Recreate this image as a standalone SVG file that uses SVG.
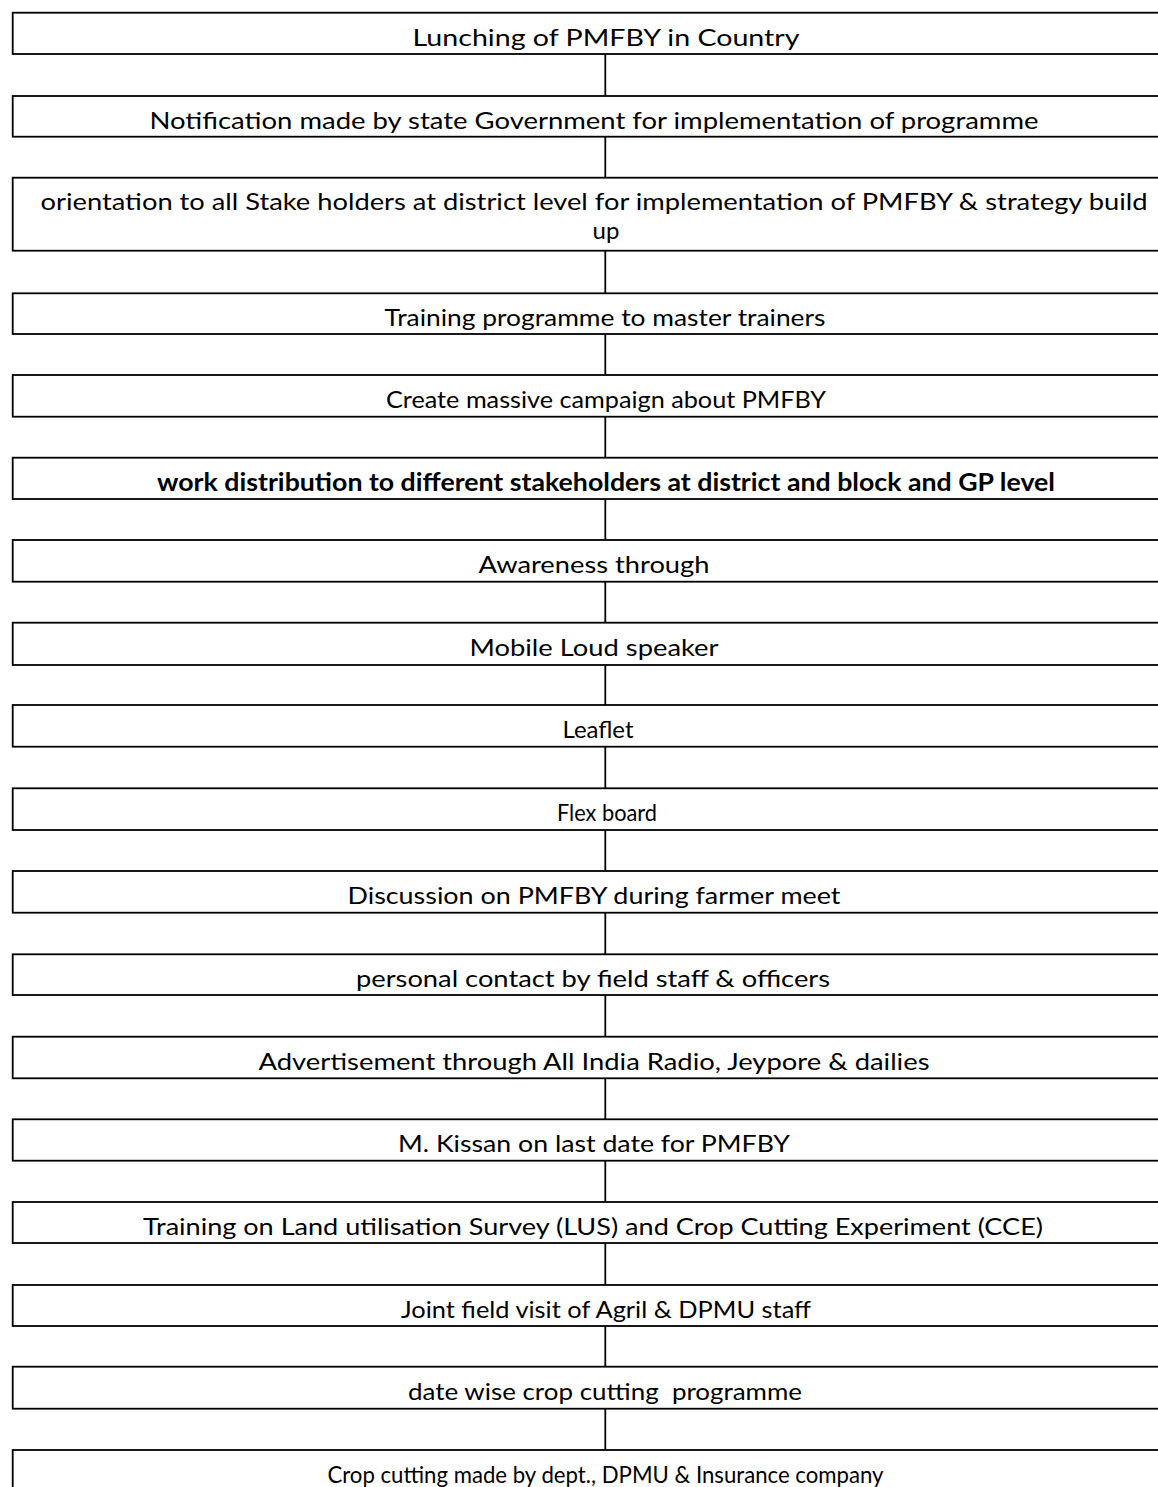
<svg xmlns="http://www.w3.org/2000/svg" width="1158" height="1487" viewBox="0 0 1158 1487">
<style>
.box{fill:#ffffff;stroke:#000000;stroke-width:1.8}
.t{font-family:Lato,"Liberation Sans",sans-serif;font-size:24px;fill:#000000;text-anchor:middle}
.b{font-weight:bold}
.c{stroke:#000000;stroke-width:1.8;fill:none}
</style>
<rect width="1158" height="1487" fill="#ffffff"/>
<g id="connectors">
<line class="c" x1="605.3" y1="54" x2="605.3" y2="96"/>
<line class="c" x1="605.3" y1="136.7" x2="605.3" y2="177.7"/>
<line class="c" x1="605.3" y1="250.7" x2="605.3" y2="293.3"/>
<line class="c" x1="605.3" y1="334" x2="605.3" y2="375"/>
<line class="c" x1="605.3" y1="416.7" x2="605.3" y2="457.7"/>
<line class="c" x1="605.3" y1="499" x2="605.3" y2="540"/>
<line class="c" x1="605.3" y1="581.7" x2="605.3" y2="622.7"/>
<line class="c" x1="605.3" y1="665" x2="605.3" y2="705"/>
<line class="c" x1="605.3" y1="746.7" x2="605.3" y2="788.3"/>
<line class="c" x1="605.3" y1="830" x2="605.3" y2="871"/>
<line class="c" x1="605.3" y1="912.7" x2="605.3" y2="954.3"/>
<line class="c" x1="605.3" y1="995" x2="605.3" y2="1036.7"/>
<line class="c" x1="605.3" y1="1078.3" x2="605.3" y2="1119.3"/>
<line class="c" x1="605.3" y1="1160.7" x2="605.3" y2="1202"/>
<line class="c" x1="605.3" y1="1243" x2="605.3" y2="1285"/>
<line class="c" x1="605.3" y1="1326" x2="605.3" y2="1366.7"/>
<line class="c" x1="605.3" y1="1408.7" x2="605.3" y2="1450"/>
</g>
<g id="n1"><rect class="box" x="12.7" y="12.7" width="1190" height="41.3"/><text class="t" x="606" y="45.5" textLength="387" lengthAdjust="spacingAndGlyphs">Lunching of PMFBY in Country</text></g>
<g id="n2"><rect class="box" x="12.7" y="96" width="1190" height="40.7"/><text class="t" x="594" y="128.5" textLength="889" lengthAdjust="spacingAndGlyphs">Notification made by state Government for implementation of programme</text></g>
<g id="n3"><rect class="box" x="12.7" y="177.7" width="1190" height="73"/><text class="t" x="594" y="209.5" textLength="1107" lengthAdjust="spacingAndGlyphs">orientation to all Stake holders at district level for implementation of PMFBY &amp; strategy build</text><text class="t" x="606" y="239">up</text></g>
<g id="n4"><rect class="box" x="12.7" y="293.3" width="1190" height="40.7"/><text class="t" x="605" y="326" textLength="441" lengthAdjust="spacingAndGlyphs">Training programme to master trainers</text></g>
<g id="n5"><rect class="box" x="12.7" y="375" width="1190" height="41.7"/><text class="t" x="606" y="408" textLength="440" lengthAdjust="spacingAndGlyphs">Create massive campaign about PMFBY</text></g>
<g id="n6"><rect class="box" x="12.7" y="457.7" width="1190" height="41.3"/><text class="t b" x="606" y="490.5" textLength="898" lengthAdjust="spacingAndGlyphs">work distribution to different stakeholders at district and block and GP level</text></g>
<g id="n7"><rect class="box" x="12.7" y="540" width="1190" height="41.7"/><text class="t" x="594" y="573" textLength="231" lengthAdjust="spacingAndGlyphs">Awareness through</text></g>
<g id="n8"><rect class="box" x="12.7" y="622.7" width="1190" height="42.3"/><text class="t" x="594" y="656" textLength="249" lengthAdjust="spacingAndGlyphs">Mobile Loud speaker</text></g>
<g id="n9"><rect class="box" x="12.7" y="705" width="1190" height="41.7"/><text class="t" x="598" y="738" textLength="71" lengthAdjust="spacingAndGlyphs">Leaflet</text></g>
<g id="n10"><rect class="box" x="12.7" y="788.3" width="1190" height="41.7"/><text class="t" x="607" y="821" textLength="100" lengthAdjust="spacingAndGlyphs">Flex board</text></g>
<g id="n11"><rect class="box" x="12.7" y="871" width="1190" height="41.7"/><text class="t" x="594" y="904" textLength="493" lengthAdjust="spacingAndGlyphs">Discussion on PMFBY during farmer meet</text></g>
<g id="n12"><rect class="box" x="12.7" y="954.3" width="1190" height="40.7"/><text class="t" x="593" y="987" textLength="474" lengthAdjust="spacingAndGlyphs">personal contact by field staff &amp; officers</text></g>
<g id="n13"><rect class="box" x="12.7" y="1036.7" width="1190" height="41.6"/><text class="t" x="594" y="1069.5" textLength="671" lengthAdjust="spacingAndGlyphs">Advertisement through All India Radio, Jeypore &amp; dailies</text></g>
<g id="n14"><rect class="box" x="12.7" y="1119.3" width="1190" height="41.4"/><text class="t" x="594" y="1152" textLength="392" lengthAdjust="spacingAndGlyphs">M. Kissan on last date for PMFBY</text></g>
<g id="n15"><rect class="box" x="12.7" y="1202" width="1190" height="41"/><text class="t" x="593" y="1234.5" textLength="900" lengthAdjust="spacingAndGlyphs">Training on Land utilisation Survey (LUS) and Crop Cutting Experiment (CCE)</text></g>
<g id="n16"><rect class="box" x="12.7" y="1285" width="1190" height="41"/><text class="t" x="606" y="1317.5" textLength="410" lengthAdjust="spacingAndGlyphs">Joint field visit of Agril &amp; DPMU staff</text></g>
<g id="n17"><rect class="box" x="12.7" y="1366.7" width="1190" height="42"/><text class="t" x="605" y="1399.5" textLength="394" lengthAdjust="spacingAndGlyphs" xml:space="preserve">date wise crop cutting  programme</text></g>
<g id="n18"><rect class="box" x="12.7" y="1450" width="1190" height="41.3"/><text class="t" x="605.5" y="1482.5" textLength="556" lengthAdjust="spacingAndGlyphs">Crop cutting made by dept., DPMU &amp; Insurance company</text></g>
</svg>
